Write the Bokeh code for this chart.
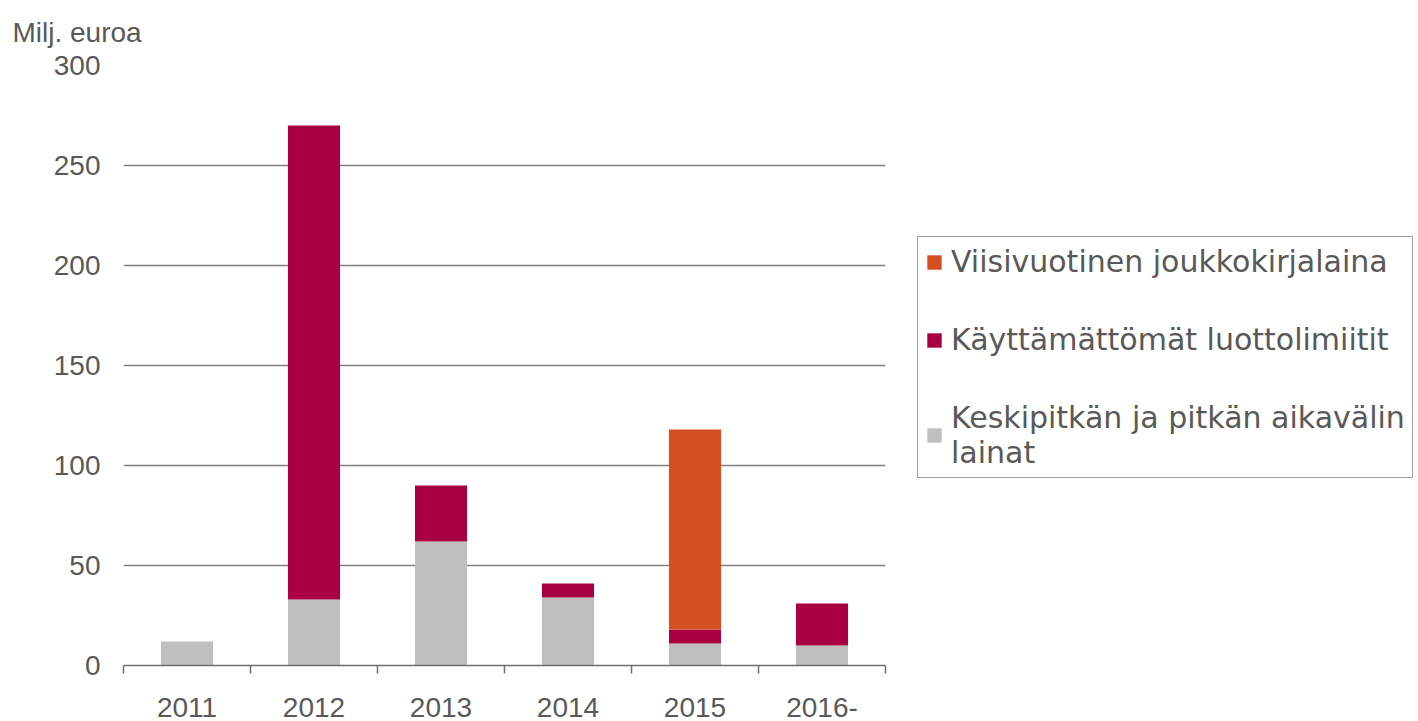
from bokeh.plotting import figure
from bokeh.models import FixedTicker, Legend, LegendItem, ColumnDataSource
from bokeh.embed import file_html
from bokeh.resources import INLINE

categories = ["2011", "2012", "2013", "2014", "2015", "2016-"]
loans = [12, 33, 62, 34, 11, 10]          # Keskipitkän ja pitkän aikavälin lainat
credit_lines = [0, 237, 28, 7, 7, 21]     # Käyttämättömät luottolimiitit
bond = [0, 0, 0, 0, 100, 0]               # Viisivuotinen joukkokirjalaina
y_ticks = [0, 50, 100, 150, 200, 250, 300]

names = ["Keskipitkän ja pitkän aikavälin\nlainat", "Käyttämättömät luottolimiitit", "Viisivuotinen joukkokirjalaina"]
colors = ["#BFBFBF", "#A80042", "#D64F20"]

xpos = [i + 0.5 for i in range(len(categories))]
src = ColumnDataSource(dict(x=xpos, loans=loans, credit=credit_lines, bond=bond))

TXT = "#595959"
p = figure(width=1418, height=721, x_range=(0, 6), y_range=(0, 300),
           output_backend="svg", toolbar_location=None,
           frame_width=762, frame_height=600,
           min_border_left=123, min_border_top=65, min_border_bottom=56, min_border_right=533,
           title="Milj. euroa")
p.outline_line_color = None
p.title.align = "left"
p.title.offset = -111
p.title.text_font = "Liberation Sans"
p.title.text_font_size = "28px"
p.title.text_font_style = "normal"
p.title.text_color = TXT
p.title.standoff = 31
p.title.vertical_align = "top"

rs = p.vbar_stack(["loans", "credit", "bond"], x="x", width=0.41, source=src,
                  color=colors, line_color=None)

# x axis
p.xaxis.ticker = FixedTicker(ticks=xpos, minor_ticks=list(range(len(categories) + 1)))
p.xaxis.major_label_overrides = {x: c for x, c in zip(xpos, categories)}
p.xaxis.major_tick_line_color = None
p.xaxis.minor_tick_line_color = "#6F6F6F"
p.xaxis.minor_tick_line_width = 1.5
p.xaxis.minor_tick_in = 0
p.xaxis.minor_tick_out = 8
p.xaxis.axis_line_color = "#6F6F6F"
p.xaxis.axis_line_width = 1.5
p.xaxis.major_label_text_font = "Liberation Sans"
p.xaxis.major_label_text_font_size = "28px"
p.xaxis.major_label_text_color = TXT
p.xaxis.major_label_standoff = 24

# y axis
p.yaxis.ticker = FixedTicker(ticks=y_ticks)
p.yaxis.minor_tick_line_color = None
p.yaxis.major_tick_line_color = None
p.yaxis.axis_line_color = None
p.yaxis.major_label_text_font = "Liberation Sans"
p.yaxis.major_label_text_font_size = "28px"
p.yaxis.major_label_text_color = TXT
p.yaxis.major_label_standoff = 17

p.xgrid.grid_line_color = None
p.ygrid.grid_line_color = "#7F7F7F"
p.ygrid.grid_line_width = 1.5
p.ygrid.ticker = FixedTicker(ticks=y_ticks[1:])

legend = Legend(items=[LegendItem(label=names[2], renderers=[rs[2]]),
                       LegendItem(label=names[1], renderers=[rs[1]]),
                       LegendItem(label=names[0], renderers=[rs[0]])],
                location=(32, 187))
legend.label_text_font = "DejaVu Sans"
legend.label_text_font_size = "30px"
legend.label_text_color = TXT
legend.glyph_width = 18
legend.glyph_height = 18
legend.label_standoff = 8
legend.spacing = 43
legend.padding = 7
legend.margin = 0
legend.border_line_color = "#404040"
legend.border_line_width = 1
legend.background_fill_color = "white"
legend.background_fill_alpha = 1
p.add_layout(legend, "right")

open("out.html", "w").write(file_html(p, INLINE))
